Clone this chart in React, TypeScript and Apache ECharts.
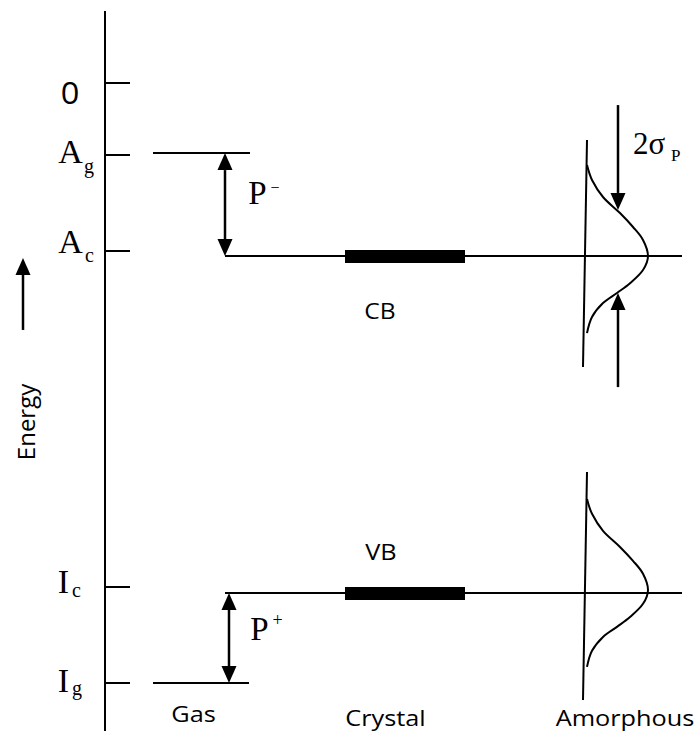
import React, { useEffect, useRef } from 'react';
import * as echarts from 'echarts';

// ---------------- data (energy in arbitrary units, 0 = vacuum level) ----------------
const tickValues = [0, -3, -7, -21, -25]; // 0, Ag, Ac, Ic, Ig
const tickMain = ['0', 'A', 'A', 'I', 'I'];
const tickSub = ['', 'g', 'c', 'c', 'g'];
const gasLevels = [-2.92, -25]; // Ag (affinity, gas), Ig (ionisation, gas)
const solidLevels = [-7.21, -21.25]; // Ac (CB edge), Ic (VB edge)
const dosPeaks = [-7.21, -21.12]; // centres of the amorphous band tails
const dosAxisTop = [-2.375, -16.21];
const dosAxisBottom = [-11.83, -25.71];
const bandLabels = ['CB', 'VB'];
const columnLabels = ['Gas', 'Crystal', 'Amorphous'];
const sigmaArrowTop = [-0.92, -5.29];
const sigmaArrowBottom = [-12.67, -8.75];
const energyArrow = [-10.29, -7.29];
// density-of-states shape (offset from the amorphous axis, energy offset from peak)
const dosShapeDX = [2, 7, 18, 35, 48, 58, 63, 58, 45, 32, 18, 7, 2];
const dosShapeDE = [3.79, 3.17, 2.46, 1.79, 1.21, 0.67, 0, -0.58, -1.13, -1.54, -1.96, -2.54, -3.21];

// ---------------- layout (horizontal positions along the diagram) ----------------
const X_MIN = -105;
const X_MAX = 594;
const E_MIN = -27;
const E_MAX = 3;
const TICK_LEN = 25;
const GAS_X = [48, 145];
const SOLID_X = [120, 577];
const BAR_X = [240, 360];
const DOS_AXIS_X = [482, 478];
const DOS_X0 = 480;
const P_MINUS_X = 120;
const P_PLUS_X = 124;
const SIGMA_X = 513;
const ENERGY_X = -82;
const COLUMN_X = [88.5, 280.5, 520];
const BAND_LABEL_X = 300;

const SANS = '"Open Sans", "Noto Sans", sans-serif';
const SERIF = '"Liberation Serif", "DejaVu Serif", serif';

type Lbl = {
  text: string;
  at: [number, number];
  dx: number;
  dy: number;
  font: string;
  size: number;
  align: 'left' | 'center' | 'right';
  rot?: number;
  sx?: number;
};

const tickLayout = [
  { main: [-35, 8.5], sub: [0, 0] },
  { main: [-34.5, -3.5], sub: [-21, 10.5] },
  { main: [-34.5, -9.5], sub: [-20, 4] },
  { main: [-41.5, -6], sub: [-33, 3] },
  { main: [-41.5, -3], sub: [-33, 4.5] },
];

function buildLabels(): Lbl[] {
  const out: Lbl[] = [];
  tickValues.forEach((v, i) => {
    const lay = tickLayout[i];
    const isSans = tickMain[i] === '0';
    out.push({
      text: tickMain[i],
      at: [0, v],
      dx: lay.main[0],
      dy: lay.main[1],
      font: isSans ? SANS : SERIF,
      size: isSans ? 31 : 34,
      align: 'center',
      sx: isSans ? 1.05 : 1,
    });
    if (tickSub[i]) {
      out.push({ text: tickSub[i], at: [0, v], dx: lay.sub[0], dy: lay.sub[1], font: SERIF, size: 20, align: 'left' });
    }
  });
  // P- and P+
  out.push({ text: 'P', at: [P_MINUS_X, gasLevels[0]], dx: 32.5, dy: 40, font: SERIF, size: 33, align: 'center' });
  out.push({ text: '\u2212', at: [P_MINUS_X, gasLevels[0]], dx: 50, dy: 34, font: SERIF, size: 16, align: 'center' });
  out.push({ text: 'P', at: [P_PLUS_X, solidLevels[1]], dx: 30.5, dy: 35.5, font: SERIF, size: 33, align: 'center' });
  out.push({ text: '+', at: [P_PLUS_X, solidLevels[1]], dx: 48.5, dy: 27, font: SERIF, size: 18, align: 'center' });
  // 2 sigma_P
  out.push({ text: '2\u03c3', at: [SIGMA_X, sigmaArrowTop[0]], dx: 15, dy: 38.5, font: SERIF, size: 31, align: 'left' });
  out.push({ text: 'P', at: [SIGMA_X, sigmaArrowTop[0]], dx: 53, dy: 50.5, font: SERIF, size: 17, align: 'left' });
  // band labels
  out.push({ text: bandLabels[0], at: [BAND_LABEL_X, solidLevels[0]], dx: -25, dy: 54, font: SANS, size: 22, align: 'center', sx: 1.12 });
  out.push({ text: bandLabels[1], at: [BAND_LABEL_X, solidLevels[1]], dx: -24, dy: -41.5, font: SANS, size: 22, align: 'center', sx: 1.15 });
  // column labels
  const colDy = [-17, -13.5, -13];
  columnLabels.forEach((t, i) => {
    out.push({ text: t, at: [COLUMN_X[i], E_MIN], dx: 0, dy: colDy[i], font: SANS, size: 22, align: 'center', sx: 1.15 });
  });
  // Energy axis title
  out.push({ text: 'Energy', at: [ENERGY_X, energyArrow[0]], dx: 2, dy: 92, font: SANS, size: 24, align: 'center', rot: Math.PI / 2 });
  return out;
}

function buildOption() {
  const labels = buildLabels();

  const thinSegs: number[][][] = [];
  thinSegs.push([[0, E_MAX], [0, E_MIN]]);
  tickValues.forEach((v) => thinSegs.push([[0, v], [TICK_LEN, v]]));
  gasLevels.forEach((v, i) => thinSegs.push([[GAS_X[0], v], [GAS_X[1] - (i === 1 ? 1 : 0), v]]));
  solidLevels.forEach((v) => thinSegs.push([[SOLID_X[0], v], [SOLID_X[1], v]]));
  dosAxisTop.forEach((t, i) => thinSegs.push([[DOS_AXIS_X[0], t], [DOS_AXIS_X[1], dosAxisBottom[i]]]));

  const barSegs = solidLevels.map((v) => [[BAR_X[0], v], [BAR_X[1], v]]);

  const arrows = [
    [P_MINUS_X, gasLevels[0], P_MINUS_X, solidLevels[0], 1, 1],
    [P_PLUS_X, solidLevels[1], P_PLUS_X, gasLevels[1], 1, 1],
    [SIGMA_X, sigmaArrowTop[0], SIGMA_X, sigmaArrowTop[1], 0, 1],
    [SIGMA_X, sigmaArrowBottom[0], SIGMA_X, sigmaArrowBottom[1], 0, 1],
    [ENERGY_X, energyArrow[0], ENERGY_X, energyArrow[1], 0, 1],
  ];

  const dosSeries = dosPeaks.map((peak) => ({
    type: 'line',
    data: dosShapeDX.map((dx, k) => [DOS_X0 + dx, peak + dosShapeDE[k]]),
    smooth: 0.35,
    showSymbol: false,
    symbol: 'none',
    silent: true,
    lineStyle: { color: '#000', width: 2 },
    z: 3,
  }));

  return {
    animation: false,
    backgroundColor: '#fff',
    grid: { left: 0, right: 0, top: 11, bottom: 4 },
    xAxis: { type: 'value', min: X_MIN, max: X_MAX, show: false },
    yAxis: { type: 'value', min: E_MIN, max: E_MAX, show: false },
    series: [
      {
        type: 'lines',
        coordinateSystem: 'cartesian2d',
        silent: true,
        symbol: ['none', 'none'],
        lineStyle: { color: '#000', width: 2, opacity: 1, cap: 'butt' },
        data: thinSegs.map((c) => ({ coords: c })),
        z: 2,
      },
      {
        type: 'lines',
        coordinateSystem: 'cartesian2d',
        silent: true,
        symbol: ['none', 'none'],
        lineStyle: { color: '#000', width: 13, opacity: 1, cap: 'butt' },
        data: barSegs.map((c) => ({ coords: c })),
        z: 2,
      },
      ...dosSeries,
      {
        type: 'custom',
        silent: true,
        clip: false,
        z: 4,
        data: arrows,
        renderItem: (params: any, api: any) => {
          const p1 = api.coord([api.value(0), api.value(1)]);
          const p2 = api.coord([api.value(2), api.value(3)]);
          const h1 = api.value(4);
          const h2 = api.value(5);
          const dx = p2[0] - p1[0];
          const dy = p2[1] - p1[1];
          const len = Math.hypot(dx, dy) || 1;
          const ux = dx / len;
          const uy = dy / len;
          const L = 17;
          const W = 7.5;
          const s = h1 ? [p1[0] + ux * L, p1[1] + uy * L] : p1;
          const e = h2 ? [p2[0] - ux * L, p2[1] - uy * L] : p2;
          const children: any[] = [
            {
              type: 'line',
              shape: { x1: s[0], y1: s[1], x2: e[0], y2: e[1] },
              style: { stroke: '#000', lineWidth: 2.5 },
            },
          ];
          if (h2) {
            children.push({
              type: 'polygon',
              shape: { points: [p2, [e[0] - uy * W, e[1] + ux * W], [e[0] + uy * W, e[1] - ux * W]] },
              style: { fill: '#000' },
            });
          }
          if (h1) {
            children.push({
              type: 'polygon',
              shape: { points: [p1, [s[0] - uy * W, s[1] + ux * W], [s[0] + uy * W, s[1] - ux * W]] },
              style: { fill: '#000' },
            });
          }
          return { type: 'group', children };
        },
      },
      {
        type: 'custom',
        silent: true,
        clip: false,
        z: 5,
        data: labels.map((l) => l.at),
        renderItem: (params: any, api: any) => {
          const l = labels[params.dataIndex];
          const p = api.coord(l.at);
          return {
            type: 'text',
            x: p[0] + l.dx,
            y: p[1] + l.dy,
            rotation: l.rot || 0,
            scaleX: l.sx || 1,
            style: {
              text: l.text,
              fontFamily: l.font,
              fontSize: l.size,
              fill: '#000',
              align: l.align,
              verticalAlign: 'middle',
            },
          };
        },
      },
    ],
  };
}

export default function App() {
  const ref = useRef<HTMLDivElement>(null);
  useEffect(() => {
    const chart = echarts.init(ref.current!, null, { renderer: 'svg' });
    chart.setOption(buildOption() as any);
    return () => chart.dispose();
  }, []);
  return (
    <div
      ref={ref}
      style={{ position: 'fixed', left: 0, top: 0, width: 699, height: 735, background: '#fff' }}
    />
  );
}
